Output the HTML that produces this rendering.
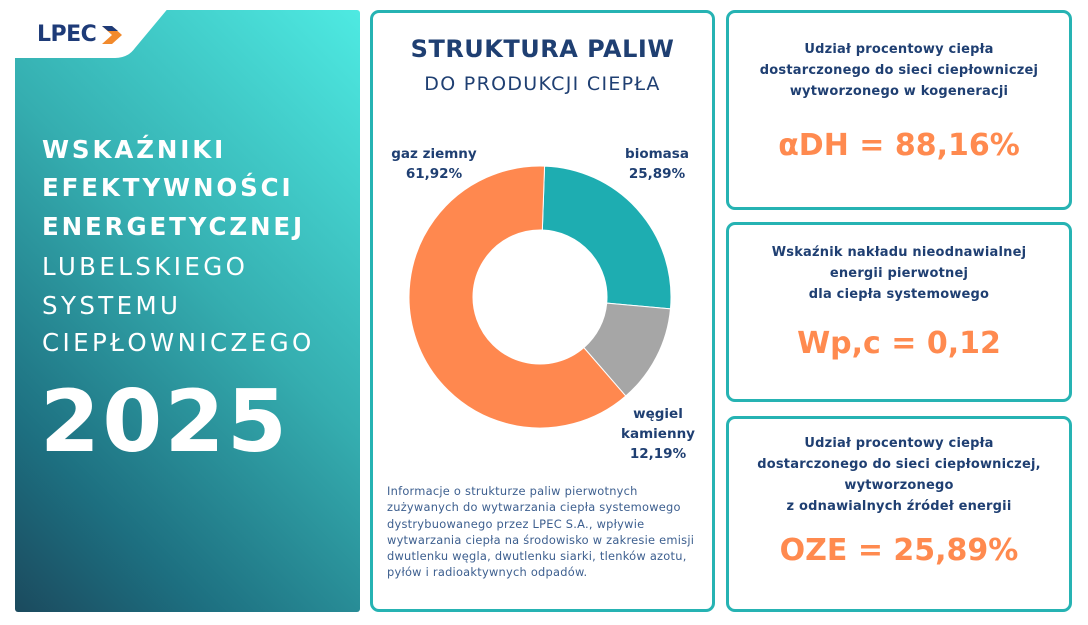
<!DOCTYPE html>
<html><head><meta charset="utf-8"><style>
body{margin:0;width:1088px;height:625px;background:#fff;position:relative;overflow:hidden;font-family:"DejaVu Sans","Liberation Sans",sans-serif}
.card{position:absolute;border:3px solid #26b3b3;border-radius:9px;box-sizing:border-box;background:#fff}
.t{position:absolute;left:0;right:0;text-align:center;color:#1f3f72;font-weight:bold;font-size:13px;line-height:21px;letter-spacing:0.2px}
.v{position:absolute;left:0;right:0;text-align:center;color:#ff8a4f;font-weight:bold;font-size:30px}
.lp{position:absolute;left:42px;color:#fff;font-size:24.5px;letter-spacing:3.4px}
.b{font-weight:bold;letter-spacing:2.9px}
</style></head><body>
<div style="position:absolute;left:15px;top:10px;width:345px;height:602px;border-radius:3px;background:linear-gradient(225deg,#4eeae2 0%,#35aeb0 45%,#1d6f80 80%,#1b4a5e 100%)"></div>
<svg style="position:absolute;left:0;top:0" width="200" height="70"><path d="M0 0 H175 L135 48 Q128 58 115 58 H0 Z" fill="#fff"/></svg>
<div style="position:absolute;left:37px;top:22px;color:#1e3b78;font-weight:bold;font-size:22px;letter-spacing:-0.5px">LPEC</div>
<svg style="position:absolute;left:100px;top:24px" width="24" height="22"><path d="M2 2 H12 L22 11 L12 20 H2 L12 11Z" fill="#f28a2c"/><path d="M2 2 H12 L18 7 H8Z" fill="#1e3b78"/></svg>
<div class="lp b" style="top:135px">WSKAŹNIKI</div>
<div class="lp b" style="top:173px">EFEKTYWNOŚCI</div>
<div class="lp b" style="top:212px">ENERGETYCZNEJ</div>
<div class="lp" style="top:252px">LUBELSKIEGO</div>
<div class="lp" style="top:291px">SYSTEMU</div>
<div class="lp" style="top:328px">CIEPŁOWNICZEGO</div>
<div style="position:absolute;left:40px;top:372px;color:#fff;font-weight:bold;font-size:86px;letter-spacing:2.5px">2025</div>

<div class="card" style="left:370px;top:10px;width:345px;height:602px">
<div style="position:absolute;left:0;right:0;top:22px;text-align:center;color:#1f3f72;font-weight:bold;font-size:24px;letter-spacing:0.5px">STRUKTURA PALIW</div>
<div style="position:absolute;left:0;right:0;top:60px;text-align:center;color:#1f3f72;font-size:19px;letter-spacing:1.3px">DO PRODUKCJI CIEPŁA</div>
<div style="position:absolute;left:14px;top:470px;width:312px;color:#3d5f8f;font-size:11.4px;line-height:16.3px;letter-spacing:0.25px">Informacje o strukturze paliw pierwotnych zużywanych do wytwarzania ciepła systemowego dystrybuowanego przez LPEC S.A., wpływie wytwarzania ciepła na środowisko w zakresie emisji dwutlenku węgla, dwutlenku siarki, tlenków azotu, pyłów i radioaktywnych odpadów.</div>
</div>
<svg style="position:absolute;left:0;top:0" width="1088" height="625">
<g transform="translate(540,297)" stroke="#fff" stroke-width="1">
<path id="a" fill="#1eadb1"/><path id="b" fill="#a6a6a6"/><path id="c" fill="#ff884f"/>
</g>
<g font-weight="bold" font-size="13.5" fill="#1f3f72" text-anchor="middle" font-family="DejaVu Sans,sans-serif">
<text x="434" y="158">gaz ziemny</text><text x="434" y="178">61,92%</text>
<text x="657" y="158">biomasa</text><text x="657" y="178">25,89%</text>
<text x="658" y="418">węgiel</text><text x="658" y="438">kamienny</text><text x="658" y="458">12,19%</text>
</g></svg>
<script>
function arc(a0,a1){var R=131,r=67,f=x=>x*Math.PI/180;
function p(rr,a){return [rr*Math.sin(f(a)),-rr*Math.cos(f(a))]}
var L=(a1-a0)>180?1:0,A=p(R,a0),B=p(R,a1),C=p(r,a1),D=p(r,a0);
return `M${A} A${R},${R} 0 ${L} 1 ${B} L${C} A${r},${r} 0 ${L} 0 ${D}Z`}
var s=2,b1=s+93.2,b2=b1+43.9;
document.getElementById('a').setAttribute('d',arc(s,b1));
document.getElementById('b').setAttribute('d',arc(b1,b2));
document.getElementById('c').setAttribute('d',arc(b2,362));
</script>

<div class="card" style="left:726px;top:10px;width:346px;height:200px">
<div class="t" style="top:26px">Udział procentowy ciepła<br>dostarczonego do sieci ciepłowniczej<br>wytworzonego w kogeneracji</div>
<div class="v" style="top:115px">αDH = 88,16%</div></div>
<div class="card" style="left:726px;top:222px;width:346px;height:180px">
<div class="t" style="top:17px">Wskaźnik nakładu nieodnawialnej<br>energii pierwotnej<br>dla ciepła systemowego</div>
<div class="v" style="top:101px">Wp,c = 0,12</div></div>
<div class="card" style="left:726px;top:416px;width:346px;height:196px">
<div class="t" style="top:14px">Udział procentowy ciepła<br>dostarczonego do sieci ciepłowniczej,<br>wytworzonego<br>z odnawialnych źródeł energii</div>
<div class="v" style="top:114px">OZE = 25,89%</div></div>
</body></html>
